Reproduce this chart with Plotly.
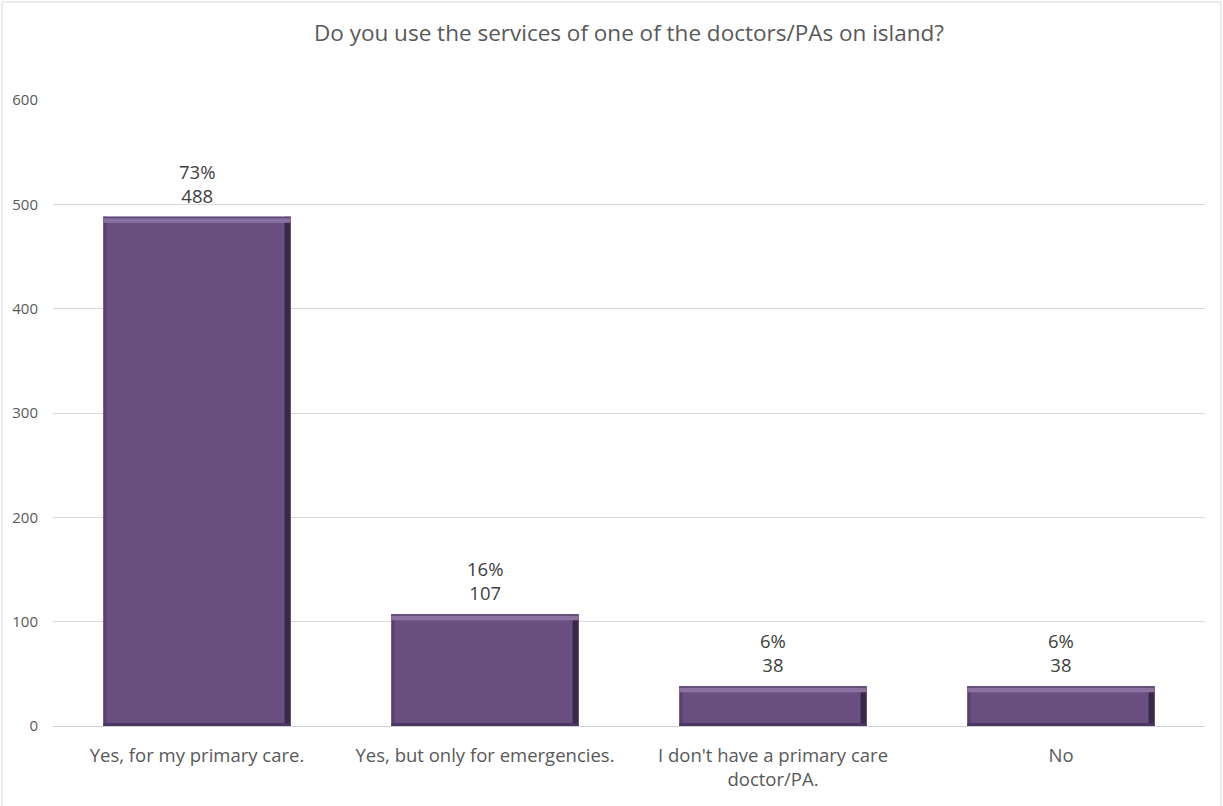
import plotly.graph_objects as go

# Survey responses
categories = [
    "Yes, for my primary care.",
    "Yes, but only for emergencies.",
    "I don't have a primary care<br>doctor/PA.",
    "No",
]
counts = [488, 107, 38, 38]
y_ticks = [0, 100, 200, 300, 400, 500, 600]

total = sum(counts)
labels = [f"{round(c / total * 100)}%<br>{c}" for c in counts]

FONT = "Open Sans, sans-serif"
FACE = "#6a5081"
TOP = "#8a72a2"
RIGHT = "#3a2a4a"
LEFT = "#58406e"
BOTTOM = "#4a3660"
HALF = 0.325

W, H = 1223, 806
ML, MR, MT, MB = 53, 18, 100, 80

fig = go.Figure()
fig.add_trace(go.Bar(
    x=list(range(len(categories))),
    y=counts,
    width=2 * HALF,
    marker=dict(color=FACE, line=dict(width=0)),
    hoverinfo="skip",
))

# value labels above each bar
annotations = []
for i, (v, t) in enumerate(zip(counts, labels)):
    annotations.append(dict(x=i, y=v, xref="x", yref="y", text=t, showarrow=False,
                            yanchor="bottom", yshift=7,
                            font=dict(family=FONT, size=18.5, color="#404040")))

# Bevelled edges on each bar
shapes = []
for i, v in enumerate(counts):
    x0, x1 = i - HALF, i + HALF
    shapes.append(dict(type="rect", xref="x", yref="y", xsizemode="pixel", xanchor=x0,
                       x0=0, x1=3, y0=0, y1=v, fillcolor=LEFT, line=dict(width=0), layer="above"))
    shapes.append(dict(type="rect", xref="x", yref="y", xsizemode="pixel", xanchor=x1,
                       x0=-6, x1=0, y0=0, y1=v, fillcolor=RIGHT, line=dict(width=0), layer="above"))
    shapes.append(dict(type="rect", xref="x", yref="y", ysizemode="pixel", yanchor=0,
                       x0=x0, x1=x1, y0=0, y1=3, fillcolor=BOTTOM, line=dict(width=0), layer="above"))
    shapes.append(dict(type="rect", xref="x", yref="y", ysizemode="pixel", yanchor=v,
                       x0=x0, x1=x1, y0=-6, y1=0, fillcolor=TOP, line=dict(width=0), layer="above"))
    shapes.append(dict(type="rect", xref="x", yref="y", ysizemode="pixel", yanchor=v,
                       x0=x0, x1=x1, y0=-1.5, y1=0, fillcolor="#5a4470", line=dict(width=0), layer="above"))

# chart border
pw, ph = W - ML - MR, H - MT - MB
shapes.append(dict(type="rect", xref="paper", yref="paper",
                   x0=(2 - ML) / pw, x1=(W - 2 - ML) / pw,
                   y0=(MB - (H - 2)) / ph + 0, y1=1 + (MT - 2) / ph,
                   line=dict(color="#d9d9d9", width=1), fillcolor="rgba(0,0,0,0)", layer="below"))

fig.update_layout(
    width=W, height=H,
    margin=dict(l=ML, r=MR, t=MT, b=MB),
    paper_bgcolor="white", plot_bgcolor="white",
    font=dict(family=FONT, color="#595959"),
    title=dict(text="Do you use the services of one of the doctors/PAs on island?",
               x=0.5, xref="paper", y=1 - 33 / H, yanchor="middle",
               font=dict(size=22.5, color="#595959")),
    showlegend=False,
    bargap=0.35,
    shapes=shapes,
    annotations=annotations,
    xaxis=dict(
        tickmode="array",
        tickvals=list(range(len(categories))),
        ticktext=categories,
        range=[-0.5, len(categories) - 0.5],
        showgrid=False, showline=False, zeroline=False,
        ticks="", tickfont=dict(size=18.5, color="#595959"),
        ticklabelstandoff=16,
    ),
    yaxis=dict(
        range=[0, 600],
        tickvals=y_ticks,
        showgrid=True, gridcolor="#d9d9d9", gridwidth=1,
        zeroline=True, zerolinecolor="#d0d0d0", zerolinewidth=1,
        showline=False, ticks="",
        tickfont=dict(size=15, color="#595959"),
        ticklabelstandoff=14,
    ),
)

fig.write_html("out.html")
